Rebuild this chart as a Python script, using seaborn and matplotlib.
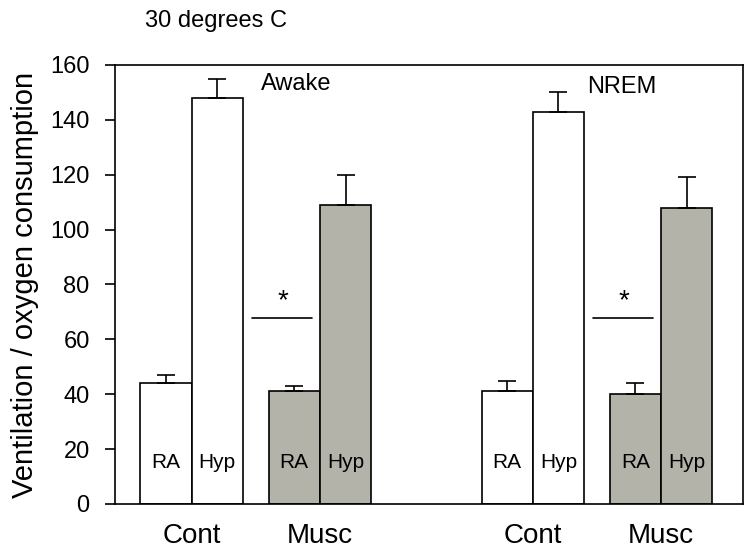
import matplotlib
matplotlib.use("Agg")
import matplotlib.pyplot as plt
import seaborn as sns
import numpy as np
import pandas as pd

# values
states = ["Awake", "NREM"]
groups = ["Cont", "Musc"]
gases = ["RA", "Hyp"]
awake_mean = [44, 148, 41, 109]
awake_sem = [3, 7, 2, 11]
nrem_mean = [41, 143, 40, 108]
nrem_sem = [4, 7, 4, 11]
y_ticks = [0, 20, 40, 60, 80, 100, 120, 140, 160]

sns.set_style("ticks")
plt.rcParams["font.family"] = ["Liberation Sans", "DejaVu Sans"]
plt.rcParams.update({"text.color": "black", "axes.labelcolor": "black",
                     "xtick.color": "black", "ytick.color": "black"})

# build long table, one row per bar
rows = []
state_shift = {"Awake": 0.0, "NREM": 6.65}
for state, means, sems in [("Awake", awake_mean, awake_sem), ("NREM", nrem_mean, nrem_sem)]:
    k = 0
    for gi, g in enumerate(groups):
        for si, gas in enumerate(gases):
            pos = round(state_shift[state] + 1.0 + gi * 2.5 + si, 2)
            rows.append({"state": state, "group": g, "gas": gas, "bar": g + " " + gas,
                         "pos": pos, "mean": means[k], "sem": sems[k]})
            k += 1
df = pd.DataFrame(rows)

fill = {"Cont RA": "white", "Cont Hyp": "white", "Musc RA": "#b4b4a8", "Musc Hyp": "#b4b4a8"}

fig = plt.figure(figsize=(7.51, 5.54), dpi=100)
ax = fig.add_axes([0.1527, 0.0903, 0.8362, 0.7924])

sns.barplot(data=df, x="pos", y="mean", hue="bar", palette=fill, native_scale=True,
            dodge=False, width=1.0, errorbar=None, edgecolor="black", linewidth=1.2,
            legend=False, ax=ax)

ax.errorbar(df["pos"], df["mean"], yerr=[np.zeros(len(df)), df["sem"]], fmt="none",
            ecolor="black", elinewidth=1.2, capsize=6.5, capthick=1.2, zorder=5)

# bar labels inside
for _, r in df.iterrows():
    ax.text(r["pos"], 15, r["gas"], ha="center", va="center", fontsize=15)

# group labels under each pair
centres = df.groupby(["state", "group"])["pos"].mean().reset_index()
ax.set_xticks(centres["pos"])
ax.set_xticklabels(centres["group"], fontsize=20)
ax.tick_params(axis="x", length=0, pad=14)

ax.set_xlim(0, 12.24)
ax.set_ylim(0, 160)
ax.set_yticks(y_ticks)
ax.tick_params(axis="y", direction="out", length=7, width=1.2, pad=11, labelsize=17)
ax.set_xlabel("")
ax.set_ylabel("Ventilation / oxygen consumption", fontsize=21, labelpad=8)

for s in ax.spines.values():
    s.set_visible(True)
    s.set_linewidth(1.2)
    s.set_color("black")

# state labels
ax.text(2.86, 153, "Awake", fontsize=17, va="center")
ax.text(9.2, 152, "NREM", fontsize=17, va="center")

# significance marks in the gap above the RA bar of the Musc pair
for state in states:
    d = df[df["state"] == state]
    left = d[(d["group"] == "Cont") & (d["gas"] == "Hyp")]["pos"].iloc[0] + 0.5
    right = d[(d["group"] == "Musc") & (d["gas"] == "Hyp")]["pos"].iloc[0] - 0.5
    ax.plot([left + 0.17, right - 0.15], [67.7, 67.7], color="black", lw=1.2)
    ax.text(left + 0.78, 74, "*", ha="center", va="center", fontsize=20)

fig.text(145 / 751, 1 - 27 / 554, "30 degrees C", fontsize=17, va="baseline")

fig.savefig("out.png", dpi=100)
